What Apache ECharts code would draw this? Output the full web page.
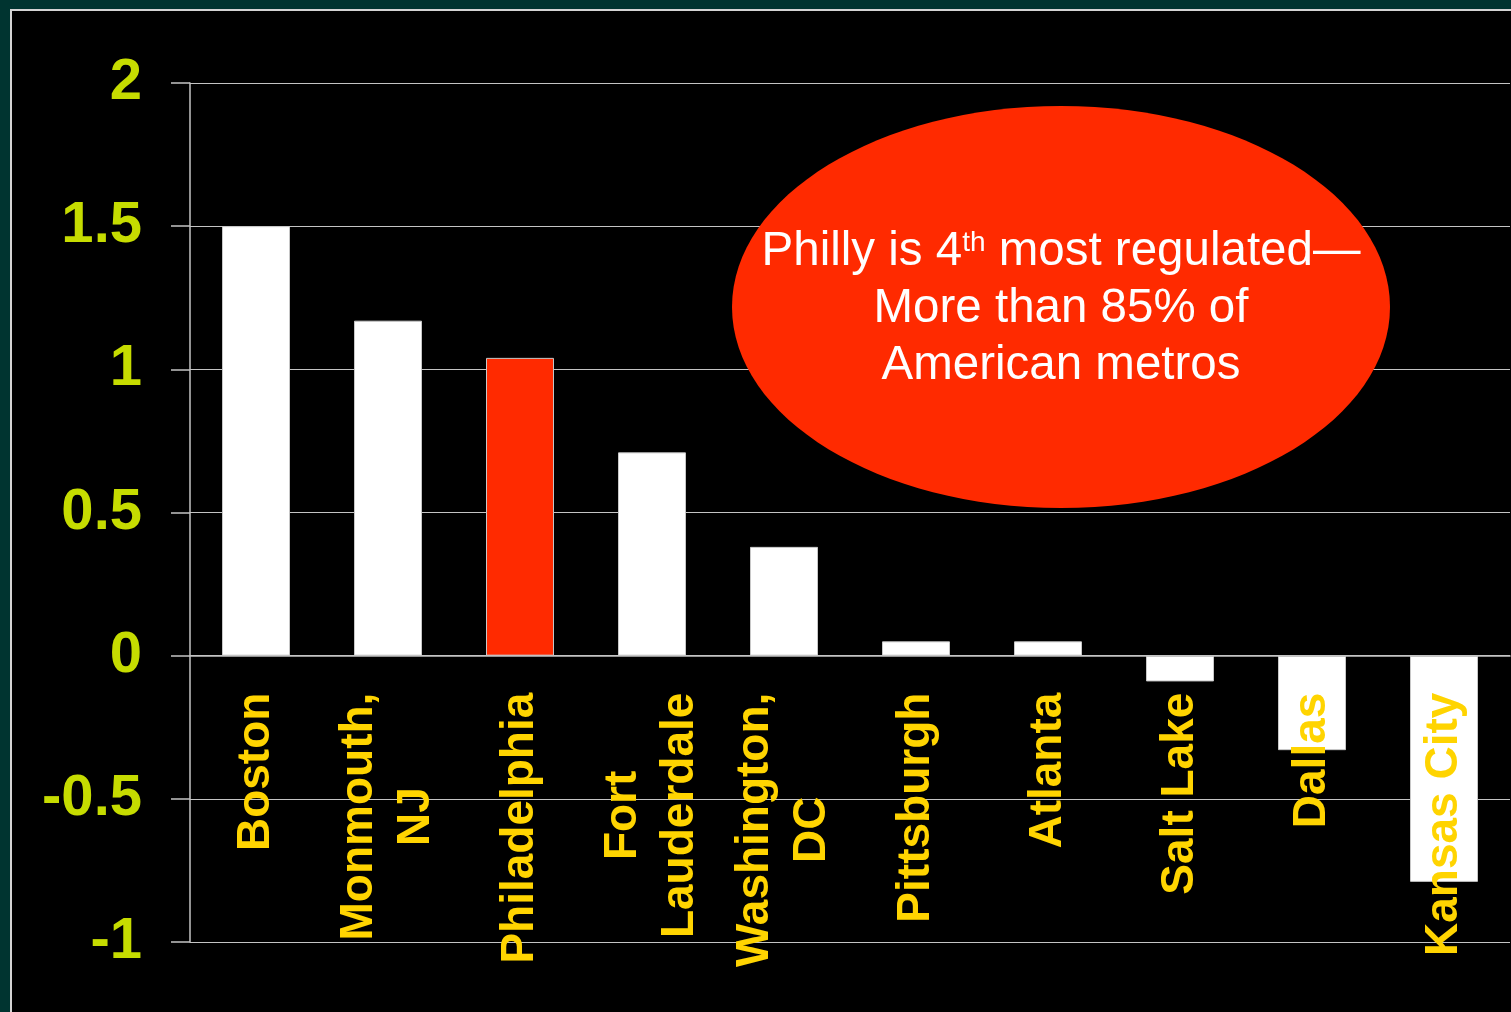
<!DOCTYPE html>
<html>
<head>
<meta charset="utf-8">
<script src="https://cdn.jsdelivr.net/npm/echarts@6/dist/echarts.min.js"></script>
<style>
  html, body { margin: 0; padding: 0; width: 100%; height: 100%; background: #003430; overflow: hidden; }
  #frame { position: absolute; left: 10px; top: 9px; right: 0; bottom: 0; background: #000; border-left: 2px solid #d4d4d4; border-top: 2px solid #d4d4d4; }
  #chart { position: absolute; left: 0; top: 0; width: 1511px; height: 1012px; }
</style>
</head>
<body>
<div id="frame"></div>
<div id="chart"></div>
<script>
var metros = ['Boston', 'Monmouth,\nNJ', 'Philadelphia', 'Fort\nLauderdale', 'Washington,\nDC',
  'Pittsburgh', 'Atlanta', 'Salt Lake', 'Dallas', 'Kansas City'];
var regIndex = [1.5, 1.17, 1.04, 0.71, 0.38, 0.05, 0.05, -0.09, -0.33, -0.79];
var highlight = 'Philadelphia';
var yTicks = { min: -1, max: 2, step: 0.5 };
var noteLines = ['Philly is 4', 'th', ' most regulated\u2014', 'More than 85% of', 'American metros'];

(function(){
  var c = echarts.init(document.getElementById('chart'));
  var gridCol = '#c4c4c4';
  var font = '"Liberation Sans", Arial, sans-serif';
  var gridTop = 83, gridBottom = 70;
  var plotH = c.getHeight() - gridTop - gridBottom;
  // put the category axis on the zero line of the value axis
  var zeroOffset = -plotH * (0 - yTicks.min) / (yTicks.max - yTicks.min);

  c.setOption({
    backgroundColor: 'transparent',
    animation: false,
    grid: { left: 190, right: 1, top: gridTop, bottom: gridBottom, containLabel: false, outerBoundsMode: 'none' },
    xAxis: {
      type: 'category',
      data: metros,
      z: 5,
      offset: zeroOffset,
      axisLine: { onZero: false, lineStyle: { color: gridCol, width: 1.5 } },
      axisTick: { length: 14, lineStyle: { color: gridCol, width: 1.5 } },
      axisLabel: {
        rotate: 90,
        margin: 37,
        interval: 0,
        hideOverlap: false,
        formatter: function(v){
          return v.split('\n').map(function(s){ return '{c|' + s + '}'; }).join('\n');
        },
        rich: {
          c: { align: 'center', color: '#ffd400', fontSize: 46, fontWeight: 'bold',
            fontFamily: font, lineHeight: 57 }
        }
      }
    },
    yAxis: {
      type: 'value',
      min: yTicks.min, max: yTicks.max, interval: yTicks.step,
      axisLine: { show: true, onZero: false, lineStyle: { color: gridCol, width: 1.5 } },
      axisTick: { show: true, length: 19, lineStyle: { color: gridCol, width: 1.5 } },
      splitLine: { lineStyle: { color: gridCol, width: 1.2 } },
      axisLabel: { color: '#c6dc00', fontSize: 58, fontWeight: 'bold', fontFamily: font, margin: 48 }
    },
    series: [{
      type: 'bar',
      barWidth: '51.5%',
      data: regIndex.map(function(v, i){
        return { value: v, itemStyle: { color: metros[i] === highlight ? '#ff2a00' : '#ffffff' } };
      }),
      itemStyle: { borderColor: '#c8c8c8', borderWidth: 1 }
    }],
    graphic: [{
      type: 'ellipse',
      z: 10,
      shape: { cx: 1061, cy: 307, rx: 329, ry: 201 },
      style: { fill: '#ff2a00' }
    }, {
      type: 'text',
      z: 11,
      x: 1061, y: 309,
      style: {
        text: '{m|' + noteLines[0] + '}{s|' + noteLines[1] + '}{m|' + noteLines[2] + '}\n{m|' +
          noteLines[3] + '}\n{m|' + noteLines[4] + '}',
        align: 'center', verticalAlign: 'middle',
        rich: {
          m: { fill: '#fff', fontSize: 47.5, fontFamily: font, lineHeight: 57 },
          s: { fill: '#fff', fontSize: 28, fontFamily: font, lineHeight: 57, verticalAlign: 'top', padding: [6, 0, 0, 0] }
        }
      }
    }]
  });
  window.addEventListener('resize', function(){ c.resize(); });
})();
</script>
</body>
</html>
